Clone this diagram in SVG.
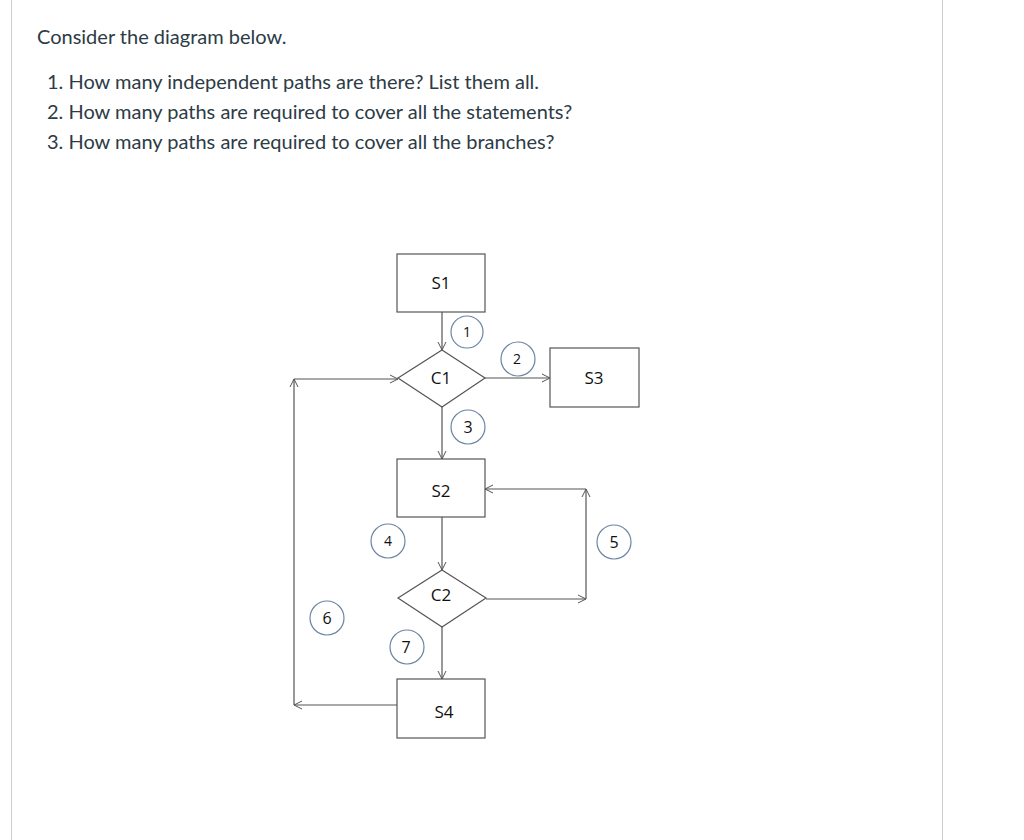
<svg xmlns="http://www.w3.org/2000/svg" width="1024" height="840" viewBox="0 0 1024 840">
<defs>
<marker id="ah" markerWidth="10" markerHeight="10" refX="9" refY="5" orient="auto" markerUnits="userSpaceOnUse">
<path d="M1,1 L9,5 L1,9" fill="none" stroke="#555" stroke-width="1"/>
</marker>
<style>
.q{font-family:Lato,"Liberation Sans",sans-serif;font-size:20px;fill:#2d3b45}
.n{fill:#fff;stroke:#555;stroke-width:1.2}
.t{font-family:"Open Sans","Liberation Sans",sans-serif;font-size:17px;fill:#111;text-anchor:middle}
.c{fill:none;stroke:#6b85a3;stroke-width:1.2}
.ct{font-family:"Open Sans","Liberation Sans",sans-serif;font-size:14px;fill:#111;text-anchor:middle}
.e{fill:none;stroke:#555;stroke-width:1.2;marker-end:url(#ah)}
</style>
</defs>
<rect width="1024" height="840" fill="#fff"/>
<line x1="11.5" y1="0" x2="11.5" y2="840" stroke="#c7cdd1"/>
<line x1="942.5" y1="0" x2="942.5" y2="840" stroke="#c7cdd1"/>
<text class="q" x="37" y="44">Consider the diagram below.</text>
<text class="q" x="47" y="89">1. How many independent paths are there? List them all.</text>
<text class="q" x="47" y="119">2. How many paths are required to cover all the statements?</text>
<text class="q" x="47" y="149">3. How many paths are required to cover all the branches?</text>
<g id="connectors">
<path class="e" d="M442,312 V350"/>
<path class="e" d="M485,378 H550"/>
<path class="e" d="M442,407 V459"/>
<path class="e" d="M442,517 V570"/>
<path class="e" d="M486,599 H586"/>
<path class="e" d="M586,599 V489"/>
<path class="e" d="M586,489 H485"/>
<path class="e" d="M442,627 V679"/>
<path class="e" d="M397,705 H294"/>
<path class="e" d="M294,705 V379"/>
<path class="e" d="M294,379 H398"/>
</g>
<g id="S1"><rect class="n" x="397" y="254" width="88" height="58"/><text class="t" x="441" y="289">S1</text></g>
<g id="C1"><polygon class="n" points="442,350 485,378 442,407 398,378"/><text class="t" x="441" y="384">C1</text></g>
<g id="S3"><rect class="n" x="550" y="348" width="89" height="59"/><text class="t" x="594" y="384">S3</text></g>
<g id="S2"><rect class="n" x="397" y="459" width="88" height="58"/><text class="t" x="441" y="497">S2</text></g>
<g id="C2"><polygon class="n" points="442,570 486,598 442,627 398,598"/><text class="t" x="441" y="601">C2</text></g>
<g id="S4"><rect class="n" x="397" y="679" width="88" height="59"/><text class="t" x="444" y="718">S4</text></g>
<g id="L1"><circle class="c" cx="467" cy="332" r="16"/><text class="ct" x="467" y="337">1</text></g>
<g id="L2"><circle class="c" cx="518" cy="359" r="17"/><text class="ct" x="517" y="364">2</text></g>
<g id="L3"><circle class="c" cx="468" cy="427" r="17"/><text class="ct" x="468" y="433" style="font-size:16px">3</text></g>
<g id="L4"><circle class="c" cx="388" cy="541" r="17"/><text class="ct" x="388" y="546">4</text></g>
<g id="L5"><circle class="c" cx="614" cy="542" r="17"/><text class="ct" x="614" y="548" style="font-size:16px">5</text></g>
<g id="L6"><circle class="c" cx="327" cy="618" r="17"/><text class="ct" x="327" y="624" style="font-size:16px">6</text></g>
<g id="L7"><circle class="c" cx="407" cy="647" r="17"/><text class="ct" x="406" y="653" style="font-size:16px">7</text></g>
</svg>
